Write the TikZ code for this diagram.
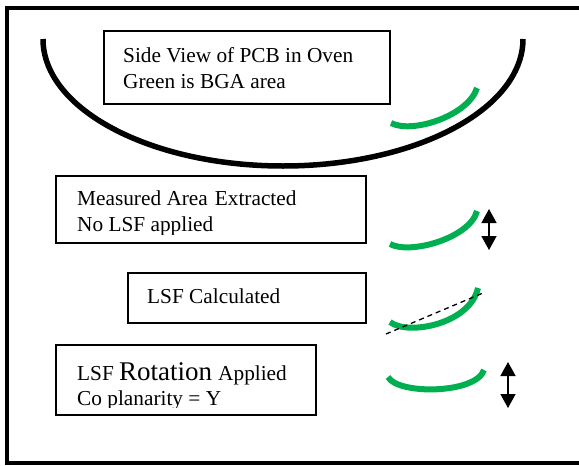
\documentclass[tikz,border=0pt]{standalone}
\usepackage{fontspec}
\setmainfont{Liberation Serif}
\usetikzlibrary{arrows.meta}
\definecolor{bgagreen}{RGB}{0,176,80}
\begin{document}
\begin{tikzpicture}[x=1pt,y=-1pt,
  box/.style={draw,line width=1.6pt,anchor=north west,inner sep=0pt},
  lbl/.style={anchor=base west,inner sep=0pt,font=\fontsize{21.3}{25}\selectfont},
  bga/.style={draw=bgagreen,line width=6pt},
  dbl/.style={{Triangle[width=15pt,length=14pt]}-{Triangle[width=15pt,length=14pt]},line width=1.6pt}]
\useasboundingbox (0,0) rectangle (579,466);
\clip (0,0) rectangle (579,466);
% frame
\draw[line width=4pt] (600,8) -- (7,8) -- (7,463) -- (600,463);
% oven curve
\draw[line width=5.5pt] (43,39) arc[start angle=180,end angle=0,x radius=240,y radius=127];
% boxes
\node[box,minimum width=286pt,minimum height=73pt] (b1) at (103,30) {};
\node[box,minimum width=310pt,minimum height=67pt] (b2) at (55,175) {};
\node[box,minimum width=238pt,minimum height=50pt] (b3) at (127,272) {};
\node[box,minimum width=260pt,minimum height=70pt] (b4) at (55,344) {};
% texts
\node[lbl] (t1a) at (123,62) {Side View of PCB in Oven};
\node[lbl] (t1b) at (123,88) {Green is BGA area};
\begin{scope}
\clip (55,175) rectangle (365,234);
\node[lbl] (t2a) at (77,205) {Measured Area\hspace{7pt}Extracted};
\node[lbl] (t2b) at (77,231) {No LSF applied};
\end{scope}
\node[lbl] (t3) at (147,303) {LSF Calculated};
\begin{scope}
\clip (55,344) rectangle (315,407);
\node[lbl] (t4a) at (77,380) {LSF \fontsize{27}{30}\selectfont Rotation\fontsize{21.3}{25}\selectfont\hspace{6pt}Applied};
\node[lbl] (t4b) at (77,405) {Co planarity = Y};
\end{scope}
% green BGA areas
\draw[bga] (391,123) .. controls (412,134) and (468,116) .. (477,88);
\draw[bga] (390,244) .. controls (410,255) and (470,238) .. (477,211);
\draw[bga] (390,322) .. controls (408,336) and (470,324) .. (478,288);
\draw[bga] (388,377) .. controls (398,395) and (476,394) .. (484,370);
% LSF line
\coordinate (l1) at (386,334);
\coordinate (l2) at (483,293);
\draw[line width=1.3pt,dash pattern=on 5pt off 4pt] (l1) -- (l2);
% arrows
\coordinate (a2t) at (489,209);
\coordinate (a2b) at (489,250);
\draw[dbl] (a2t) -- (a2b);
\coordinate (a4t) at (508,362);
\coordinate (a4b) at (508,408);
\draw[dbl] (a4t) -- (a4b);
\end{tikzpicture}
\end{document}
